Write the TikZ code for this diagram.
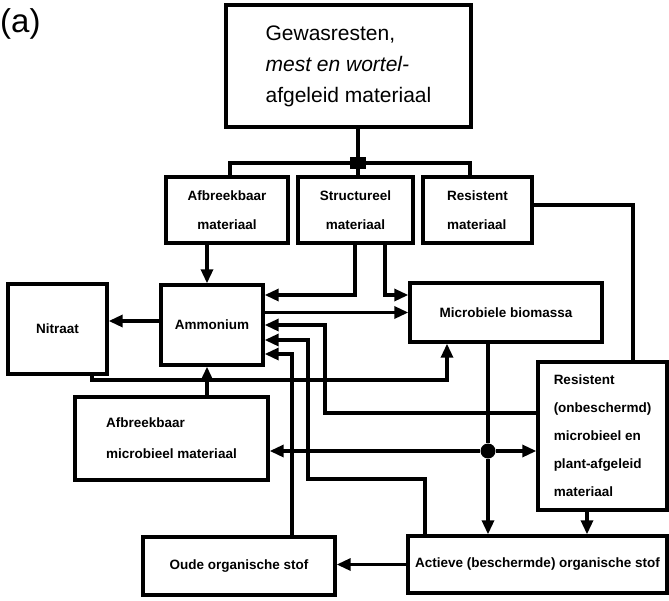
\documentclass[tikz,border=0pt]{standalone}
\usepackage{fontspec}
\setmainfont{Liberation Sans}
\usetikzlibrary{arrows.meta,calc}
\begin{document}
\begin{tikzpicture}[x=1pt,y=-1pt,
  box/.style={draw,line width=3.4pt,inner sep=0pt,align=center,
    font=\bfseries\fontsize{13.5}{29}\selectfont},
  conn/.style={line width=3.2pt},
  arr/.style={conn,-{Triangle[length=14pt,width=12pt]}},
]
\useasboundingbox (0,0) rectangle (669,600);

% panel label
\node[font=\fontsize{33}{33}\selectfont,anchor=north west,inner sep=0pt] (lbl) at (0,8) {(a)};

% pools
\node[box,minimum width=245pt,minimum height=122pt,align=left,
      font=\fontsize{21}{31}\selectfont] (top) at (348.5,66)
  {Gewasresten,\\\textit{mest en wortel-}\\afgeleid materiaal};
\node[box,minimum width=122pt,minimum height=66pt] (afb) at (227,210) {Afbreekbaar\\materiaal};
\node[box,minimum width=115pt,minimum height=66pt] (str) at (355.5,210) {Structureel\\materiaal};
\node[box,minimum width=109pt,minimum height=66pt,align=left] (res) at (477.5,210) {Resistent\\materiaal};
\node[box,minimum width=99pt,minimum height=90pt] (nit) at (57.5,329) {Nitraat};
\node[box,minimum width=102pt,minimum height=80pt] (amm) at (212,325) {Ammonium};
\node[box,minimum width=192pt,minimum height=59pt] (mic) at (506,312.5) {Microbiele biomassa};
\node[box,minimum width=193pt,minimum height=83pt,align=left,
      font=\bfseries\fontsize{13.5}{31}\selectfont] (amb) at (171.5,438.5)
  {Afbreekbaar\\microbieel materiaal};
\node[box,minimum width=129pt,minimum height=148pt,align=left,
      font=\bfseries\fontsize{13.5}{28}\selectfont] (rpm) at (602.5,436)
  {Resistent\\(onbeschermd)\\microbieel en\\plant-afgeleid\\materiaal};
\node[box,minimum width=192pt,minimum height=58pt] (oude) at (239,566) {Oude organische stof};
\node[box,minimum width=259pt,minimum height=57pt] (act) at (537.5,564.5) {Actieve (beschermde) organische stof};

% split of the incoming material
\node[fill,minimum width=16pt,minimum height=12pt,inner sep=0pt] (jq) at (358,163) {};
\draw[conn] (top.south -| jq) -- (jq);
\draw[conn] (jq) -| ($(afb.north)+(3,0)$);
\draw[conn] (jq) -- (jq |- str.north);
\draw[conn] (jq) -| ($(res.north)+(-7.5,0)$);

% flows into and out of ammonium
\draw[arr] ($(afb.south)+(-20,0)$) -- ($(amm.north)+(-5,0)$);
\draw[arr] ($(str.south)+(-0.5,0)$) |- ($(amm.east)+(0,-30)$);
\draw[arr] ($(str.south)+(29.5,0)$) |- ($(mic.west)+(0,-17.5)$);
\draw[arr] (amm.east |- mic.west) -- (mic.west);
\draw[arr] ($(amm.west)+(0,-4)$) -- ($(nit.east)+(0,-8)$);
\draw[arr] ($(rpm.west)+(0,-23)$) -- (325,413) -- (325,325) -- (amm.east);
\draw[arr] ($(act.north)+(-112.5,0)$) -- (425,479) -- (308,479) -- (308,340) -- ($(amm.east)+(0,15)$);
\draw[arr] ($(oude.north)+(53,0)$) -- (292,354) -- ($(amm.east)+(0,29)$);
\draw[arr] ($(nit.south)+(34.5,0)$) -- (92,380) -- (447,380) -- ($(mic.south)+(-59,0)$);
\draw[arr] ($(amb.north)+(35.5,0)$) -- ($(amm.south)+(-5,0)$);

% microbial biomass turnover
\node[circle,fill,minimum size=15pt,inner sep=0pt] (dot) at (488,451) {};
\draw[conn] ($(mic.south)+(-18,0)$) -- (dot);
\draw[arr] (dot) -- (dot |- act.north);
\draw[arr] (dot) -- (dot -| amb.east);
\draw[arr] (dot) -- (dot -| rpm.west);

% resistant material and stabilisation
\draw[conn] ($(res.east)+(0,-5)$) -| ($(rpm.north)+(30.5,0)$);
\draw[arr] ($(rpm.south)+(-15.5,0)$) -- ($(act.north)+(49.5,0)$);
\draw[arr] (act.west) -- (oude.east |- act.west);
\end{tikzpicture}
\end{document}
